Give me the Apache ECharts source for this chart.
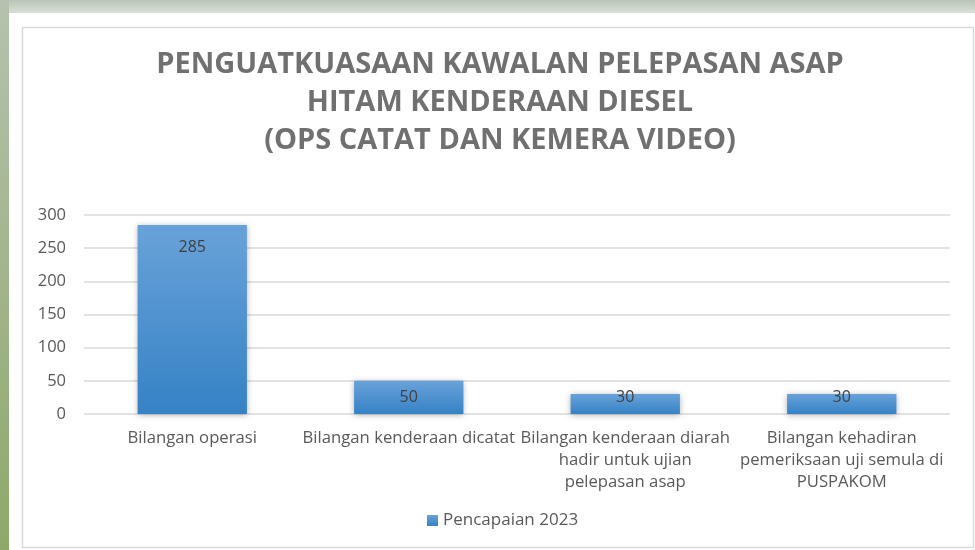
<!DOCTYPE html>
<html><head><meta charset="utf-8">
<script src="https://cdn.jsdelivr.net/npm/echarts@6/dist/echarts.min.js"></script>
<style>html,body{margin:0;padding:0;background:#fff}#c{width:975px;height:550px}</style>
</head><body><div id="c"></div>
<script>
const categories = [
  'Bilangan operasi',
  'Bilangan kenderaan dicatat',
  'Bilangan kenderaan diarah\nhadir untuk ujian\npelepasan asap',
  'Bilangan kehadiran\npemeriksaan uji semula di\nPUSPAKOM'
];
const values = [285, 50, 30, 30];
const seriesName = 'Pencapaian 2023';
const titleText = 'PENGUATKUASAAN KAWALAN PELEPASAN ASAP\nHITAM KENDERAAN DIESEL\n(OPS CATAT DAN KEMERA VIDEO)';

const chart = echarts.init(document.getElementById('c'), null, {renderer:'canvas'});
const font = '"Open Sans", "Noto Sans", sans-serif';
const yMax = 300, plotH = 199;
const barData = values.map(v => {
  const h = v / yMax * plotH;
  return {value: v, label: {distance: Math.min(14, h - 25)}};
});
chart.setOption({
  animation:false,
  backgroundColor:'#ffffff',
  graphic:[
    {type:'rect', shape:{x:0,y:0,width:975,height:13}, z:-10, silent:true,
     style:{fill:new echarts.graphic.LinearGradient(0,0,0,1,[{offset:0,color:'#b9c6b6'},{offset:1,color:'#d8dfd6'}])}},
    {type:'rect', shape:{x:0,y:0,width:9,height:550}, z:-9, silent:true,
     style:{fill:new echarts.graphic.LinearGradient(0,0,0,1,[{offset:0,color:'#b5c2ae'},{offset:1,color:'#8fa86a'}])}},
    {type:'rect', shape:{x:22.5,y:27.5,width:951,height:520}, z:-8, silent:true,
     style:{fill:'#ffffff', stroke:'#d9d9d9', lineWidth:1.5}}
  ],
  title:{
    text:titleText, left:495, top:41, textAlign:'center',
    textStyle:{fontFamily:font, fontWeight:'bold', fontSize:29, color:'#707070', lineHeight:38}
  },
  legend:{
    data:[seriesName], left:422, top:507, itemWidth:11, itemHeight:11, icon:'rect', itemGap:5,
    textStyle:{fontFamily:font, fontSize:17, color:'#595959'}
  },
  grid:{left:84, right:25, top:215, height:plotH},
  xAxis:{
    type:'category', data:categories,
    axisLine:{show:false}, axisTick:{show:false},
    axisLabel:{interval:0, fontFamily:font, fontSize:16.7, color:'#595959', lineHeight:22, margin:13}
  },
  yAxis:{
    type:'value', min:0, max:yMax, interval:50,
    axisLine:{show:false}, axisTick:{show:false},
    axisLabel:{fontFamily:font, fontSize:16.5, color:'#595959', margin:18},
    splitLine:{lineStyle:{color:'#d9d9d9', width:1.5}}
  },
  series:[{
    name:seriesName, type:'bar', data:barData, barWidth:'50.5%',
    itemStyle:{
      color:new echarts.graphic.LinearGradient(0,0,0,1,[{offset:0,color:'#69a2d9'},{offset:1,color:'#3582c5'}]),
      shadowColor:'rgba(0,0,0,0.3)', shadowBlur:6, shadowOffsetX:0, shadowOffsetY:1
    },
    label:{show:true, position:'insideTop', fontFamily:font, fontSize:16, color:'#404040'}
  }]
});
</script></body></html>
